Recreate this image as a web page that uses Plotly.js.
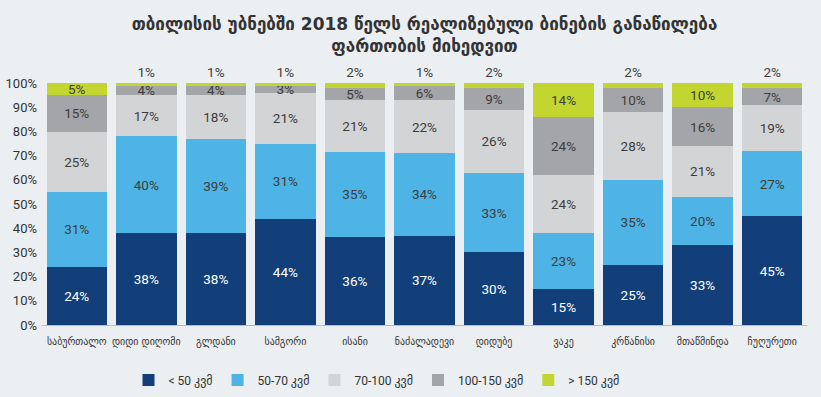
<!DOCTYPE html>
<html>
<head>
<meta charset="utf-8">
<script src="https://cdn.plot.ly/plotly-3.0.1.min.js"></script>
<style>
html,body{margin:0;padding:0;background:#ebeff2;}
#chart{width:821px;height:397px;}
</style>
</head>
<body>
<div id="chart"></div>
<script>
const categories = ["საბურთალო","დიდი დიღომი","გლდანი","სამგორი","ისანი","ნაძალადევი","დიდუბე","ვაკე","კრწანისი","მთაწმინდა","ჩუღურეთი"];
const seriesNames = ["< 50 კვმ","50-70 კვმ","70-100 კვმ","100-150 კვმ","> 150 კვმ"];
const under50   = [24,38,38,44,36.4,37,30,15,25,33,45];
const s50to70   = [31,40,39,31,35.3,34,33,23,35,20,27];
const s70to100  = [25,17,18,21,21.3,22,26,24,28,21,19];
const s100to150 = [15,4,4,3,5.1,6,9,24,10,16,7];
const over150   = [5,1,1,1,1.9,1,2,14,2,10,2];
const colors = ["#123f7a","#4eb4e6","#d3d4d6","#a4a5a8","#c3d62f"];
const textColors = ["#ffffff","#3d3d3d","#3d3d3d","#3d3d3d","#3d3d3d"];

const allSeries = [under50,s50to70,s70to100,s100to150,over150];
const fontFam = "Roboto, 'DejaVu Sans', sans-serif";
const geoFam = "'DejaVu Sans Condensed', 'DejaVu Sans', sans-serif";

const traces = allSeries.map((vals,i)=>{
  const last = i===allSeries.length-1;
  return {
    type:'bar',
    name: seriesNames[i],
    x: categories,
    y: vals,
    marker:{color:colors[i], line:{width:0}},
    text: vals.map(v=>Math.round(v)+'%'),
    texttemplate:'%{text}',
    textposition: last ? vals.map(v=>v<4?'outside':'inside') : 'inside',
    insidetextanchor:'middle',
    insidetextfont:{color:textColors[i], size:13.5, family:fontFam},
    outsidetextfont:{color:'#3d3d3d', size:13.5, family:fontFam},
    textangle:0,
    cliponaxis:false,
    hoverinfo:'skip'
  };
});

const layout = {
  width:821, height:397,
  paper_bgcolor:'#ebeff2',
  plot_bgcolor:'#ebeff2',
  barmode:'stack',
  bargap:0.13,
  margin:{l:42, r:14, t:82, b:72, autoexpand:false},
  font:{family:fontFam, color:'#333333'},
  title:{
    text:'<b>თბილისის უბნებში 2018 წელს რეალიზებული ბინების განაწილება<br>ფართობის მიხედვით</b>',
    x:0.5, xanchor:'center', xref:'paper', yref:'container', y:0.925, yanchor:'middle',
    font:{family:"'DejaVu Sans', sans-serif", size:17, color:'#333333'}
  },
  uniformtext:{mode:'show', minsize:13.5},
  xaxis:{
    showgrid:false, zeroline:false,
    showline:true, linecolor:'#b8bcc0', linewidth:1,
    ticks:'', tickangle:0, ticklabelstandoff:6,
    tickfont:{size:11, color:'#333333', family:geoFam},
    automargin:false
  },
  yaxis:{
    range:[0,100.5], showgrid:false, zeroline:false, showline:false,
    tickvals:[0,10,20,30,40,50,60,70,80,90,100],
    ticktext:['0%','10%','20%','30%','40%','50%','60%','70%','80%','90%','100%'],
    tickfont:{size:13, color:'#333333'},
    ticklabelstandoff:4,
    automargin:false, fixedrange:true
  },
  legend:{
    orientation:'h', x:0.5-48/765, xanchor:'center', y:-0.226, yanchor:'middle',
    font:{size:12, color:'#333333', family:fontFam}, bgcolor:'rgba(0,0,0,0)',
    traceorder:'normal', itemwidth:30
  },
  showlegend:true
};

Plotly.newPlot('chart', traces, layout, {displayModeBar:false, staticPlot:true});
</script>
</body>
</html>
